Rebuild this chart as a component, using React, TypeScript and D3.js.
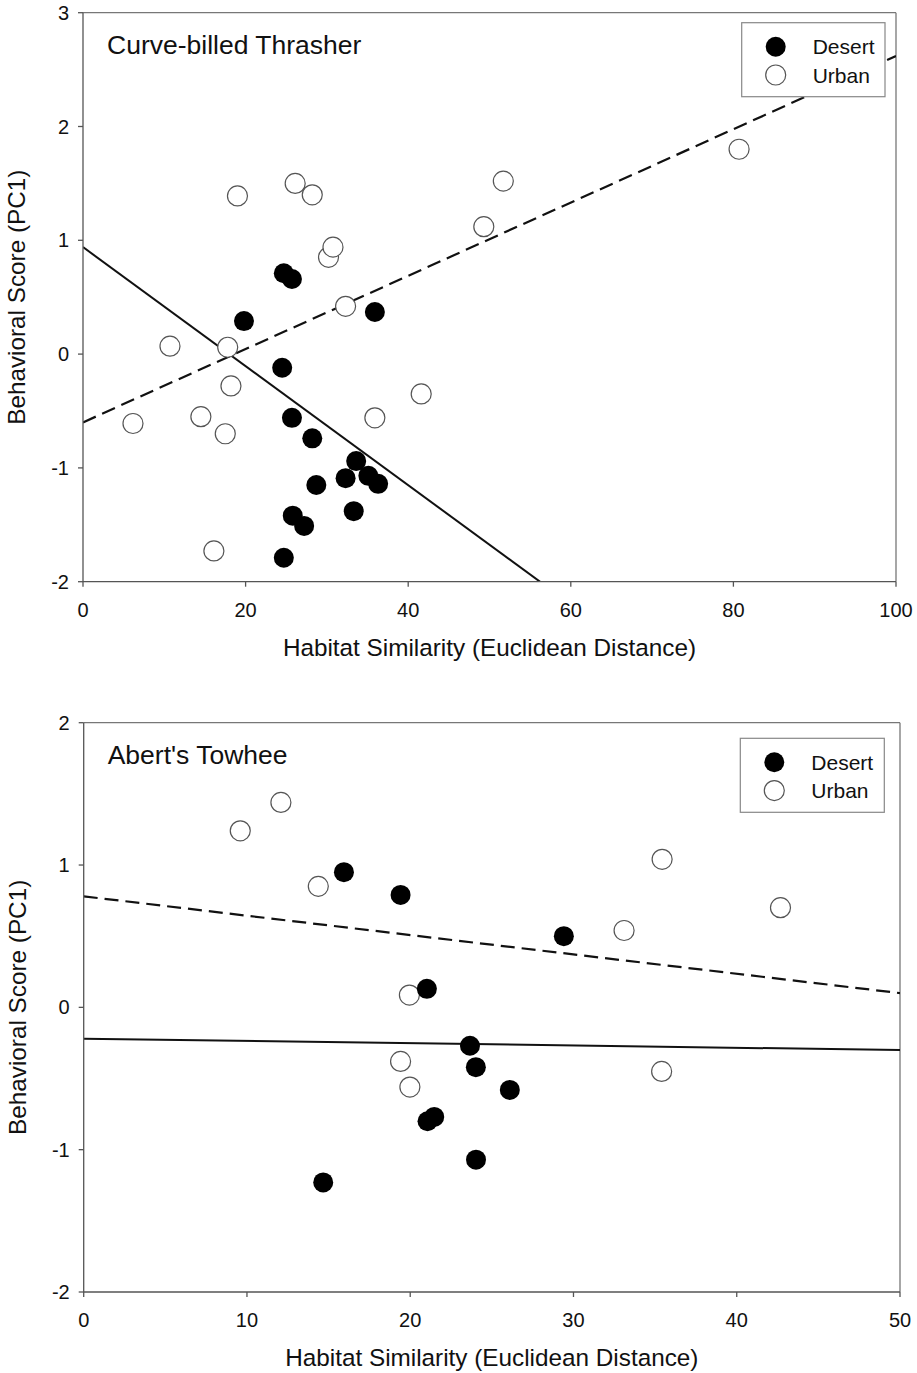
import React from "react";
import * as d3 from "d3";

// ---------- Data ----------
// Curve-billed Thrasher
const thrasherDesertX = [24.7, 25.7, 19.8, 35.9, 24.5, 25.7, 28.2, 33.6, 32.3, 35.1, 36.3, 28.7, 33.3, 25.8, 27.2, 24.7];
const thrasherDesertY = [0.71, 0.66, 0.29, 0.37, -0.12, -0.56, -0.74, -0.94, -1.09, -1.07, -1.14, -1.15, -1.38, -1.42, -1.51, -1.79];
const thrasherUrbanX = [6.15, 10.7, 14.5, 17.5, 17.8, 18.2, 16.1, 19.0, 26.1, 28.2, 30.2, 30.75, 32.3, 35.9, 41.6, 49.3, 51.7, 80.7];
const thrasherUrbanY = [-0.61, 0.07, -0.55, -0.70, 0.06, -0.28, -1.73, 1.39, 1.50, 1.40, 0.85, 0.94, 0.42, -0.56, -0.35, 1.12, 1.52, 1.80];
const thrasherFitDesert = [0.94, -0.0523]; // intercept, slope
const thrasherFitUrban = [-0.60, 0.0322];

// Abert's Towhee
const towheeDesertX = [15.94, 19.41, 21.02, 29.41, 23.66, 24.02, 26.1, 14.67, 21.06, 21.47, 24.03];
const towheeDesertY = [0.95, 0.79, 0.13, 0.50, -0.27, -0.42, -0.58, -1.23, -0.80, -0.77, -1.07];
const towheeUrbanX = [9.59, 12.08, 14.37, 19.95, 19.41, 19.98, 33.1, 35.43, 42.68, 35.4];
const towheeUrbanY = [1.24, 1.44, 0.85, 0.086, -0.38, -0.56, 0.54, 1.04, 0.70, -0.45];
const towheeFitDesert = [-0.22, -0.0016];
const towheeFitUrban = [0.78, -0.0136];

const thrasherXTicks = [0, 20, 40, 60, 80, 100];
const thrasherYTicks = [-2, -1, 0, 1, 2, 3];
const towheeXTicks = [0, 10, 20, 30, 40, 50];
const towheeYTicks = [-2, -1, 0, 1, 2];

const legendLabels = ["Desert", "Urban"];
const xTitle = "Habitat Similarity (Euclidean Distance)";
const yTitle = "Behavioral Score (PC1)";

const FONT = "'Liberation Sans', Arial, Helvetica, sans-serif";

type PanelProps = {
  id: string;
  title: string;
  left: number;
  right: number;
  top: number;
  bottom: number;
  xDomain: [number, number];
  yDomain: [number, number];
  xTicks: number[];
  yTicks: number[];
  desertX: number[];
  desertY: number[];
  urbanX: number[];
  urbanY: number[];
  fitDesert: number[];
  fitUrban: number[];
  legendBox: { x: number; y: number; w: number; h: number };
};

function Panel(p: PanelProps) {
  const x = d3.scaleLinear().domain(p.xDomain).range([p.left, p.right]);
  const y = d3.scaleLinear().domain(p.yDomain).range([p.bottom, p.top]);
  const fitPath = (fit: number[]) => {
    const xs = [p.xDomain[0], p.xDomain[1]];
    return (
      d3
        .line<number>()
        .x((d) => x(d))
        .y((d) => y(fit[0] + fit[1] * d))(xs) || ""
    );
  };
  const r = 10;
  const tick = 5;
  const clipId = `clip-${p.id}`;
  const lb = p.legendBox;
  return (
    <g>
      <defs>
        <clipPath id={clipId}>
          <rect x={p.left} y={p.top} width={p.right - p.left} height={p.bottom - p.top} />
        </clipPath>
      </defs>
      {/* frame */}
      <line x1={p.left} x2={p.right} y1={p.top} y2={p.top} stroke="#777" strokeWidth={1.3} />
      <line x1={p.right} x2={p.right} y1={p.top} y2={p.bottom} stroke="#777" strokeWidth={1.3} />
      {/* regression lines */}
      <g clipPath={`url(#${clipId})`}>
        <path d={fitPath(p.fitUrban)} fill="none" stroke="#111" strokeWidth={2.2} strokeDasharray="14,7" />
        <path d={fitPath(p.fitDesert)} fill="none" stroke="#111" strokeWidth={2} />
      </g>
      {/* points */}
      {p.urbanX.map((vx, i) => (
        <circle key={`u${i}`} cx={x(vx)} cy={y(p.urbanY[i])} r={r} fill="#fff" stroke="#555" strokeWidth={1.2} />
      ))}
      {p.desertX.map((vx, i) => (
        <circle key={`d${i}`} cx={x(vx)} cy={y(p.desertY[i])} r={r} fill="#000" />
      ))}
      {/* axes */}
      <line x1={p.left} x2={p.left} y1={p.top} y2={p.bottom} stroke="#555" strokeWidth={1.3} />
      <line x1={p.left} x2={p.right} y1={p.bottom} y2={p.bottom} stroke="#555" strokeWidth={1.3} />
      {p.xTicks.map((t) => (
        <g key={`xt${t}`}>
          <line x1={x(t)} x2={x(t)} y1={p.bottom} y2={p.bottom + tick} stroke="#555" strokeWidth={1.3} />
          <text x={x(t)} y={p.bottom + 35} textAnchor="middle" fontSize={20} fontFamily={FONT} fill="#111">
            {t}
          </text>
        </g>
      ))}
      {p.yTicks.map((t) => (
        <g key={`yt${t}`}>
          <line x1={p.left - tick} x2={p.left} y1={y(t)} y2={y(t)} stroke="#555" strokeWidth={1.3} />
          <text x={p.left - 14} y={y(t) + 7} textAnchor="end" fontSize={20} fontFamily={FONT} fill="#111">
            {t}
          </text>
        </g>
      ))}
      {/* titles */}
      <text x={p.left + 24} y={p.top + 41} fontSize={26.5} fontFamily={FONT} fill="#111">
        {p.title}
      </text>
      <text
        x={(p.left + p.right) / 2}
        y={p.bottom + 74}
        textAnchor="middle"
        fontSize={24.3}
        fontFamily={FONT}
        fill="#111"
      >
        {xTitle}
      </text>
      <text
        transform={`translate(${p.left - 58},${(p.top + p.bottom) / 2}) rotate(-90)`}
        textAnchor="middle"
        fontSize={24.3}
        fontFamily={FONT}
        fill="#111"
      >
        {yTitle}
      </text>
      {/* legend */}
      <rect x={lb.x} y={lb.y} width={lb.w} height={lb.h} fill="#fff" stroke="#888" strokeWidth={1.2} />
      {legendLabels.map((lab, i) => (
        <g key={lab}>
          <circle
            cx={lb.x + 34}
            cy={lb.y + 24 + i * 28.3}
            r={r}
            fill={i === 0 ? "#000" : "#fff"}
            stroke={i === 0 ? "none" : "#555"}
            strokeWidth={1.2}
          />
          <text x={lb.x + 71} y={lb.y + 31.5 + i * 28.3} fontSize={21} fontFamily={FONT} fill="#111">
            {lab}
          </text>
        </g>
      ))}
    </g>
  );
}

export default function App() {
  return (
    <svg
      width={917}
      height={1373}
      style={{ position: "absolute", left: 0, top: 0, background: "#fff" }}
    >
      <rect x={0} y={0} width={917} height={1373} fill="#fff" />
      <Panel
        id="top"
        title="Curve-billed Thrasher"
        left={83}
        right={896}
        top={12.7}
        bottom={581.7}
        xDomain={[0, 100]}
        yDomain={[-2, 3]}
        xTicks={thrasherXTicks}
        yTicks={thrasherYTicks}
        desertX={thrasherDesertX}
        desertY={thrasherDesertY}
        urbanX={thrasherUrbanX}
        urbanY={thrasherUrbanY}
        fitDesert={thrasherFitDesert}
        fitUrban={thrasherFitUrban}
        legendBox={{ x: 741.7, y: 22.7, w: 143.3, h: 74 }}
      />
      <Panel
        id="bottom"
        title="Abert's Towhee"
        left={83.7}
        right={900}
        top={722.7}
        bottom={1292}
        xDomain={[0, 50]}
        yDomain={[-2, 2]}
        xTicks={towheeXTicks}
        yTicks={towheeYTicks}
        desertX={towheeDesertX}
        desertY={towheeDesertY}
        urbanX={towheeUrbanX}
        urbanY={towheeUrbanY}
        fitDesert={towheeFitDesert}
        fitUrban={towheeFitUrban}
        legendBox={{ x: 740.3, y: 738.3, w: 144, h: 74 }}
      />
    </svg>
  );
}
